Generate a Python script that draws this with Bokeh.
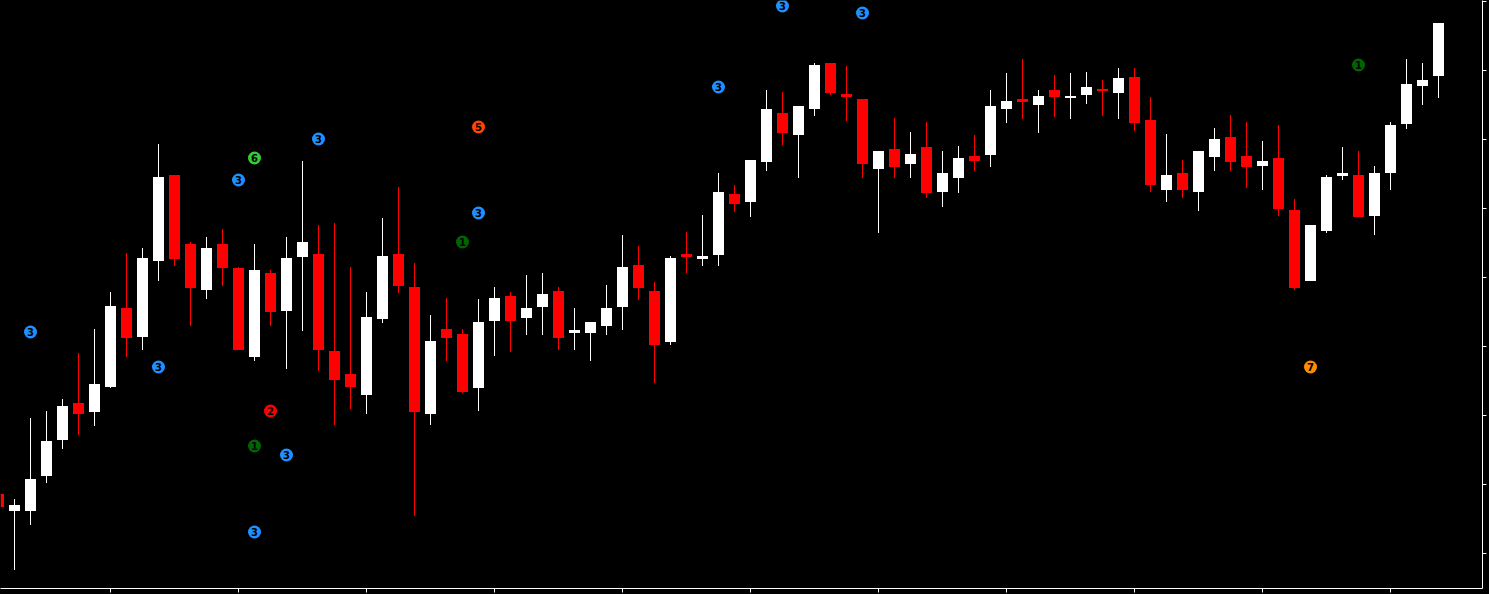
from bokeh.plotting import figure
from bokeh.models import Range1d, FixedTicker, LinearAxis, Label, ColumnDataSource
from bokeh.core.properties import value
from bokeh.embed import file_html
from bokeh.resources import INLINE

# ---- data (bar index, OHLC) ----
bars = list(range(-1, 90))
opens = [1053, 1044.5, 1044.5, 1062, 1080, 1098.5, 1094, 1106.5, 1146, 1131.5,
         1169.5, 1212.5, 1178, 1155, 1178, 1166, 1121.5, 1163.5, 1144.5, 1171.5,
         1173, 1124.5, 1113, 1102.5, 1140.5, 1173, 1156.5, 1093, 1135.5, 1133,
         1106, 1139.5, 1152, 1141, 1146.5, 1154.5, 1133.5, 1133.5, 1137, 1146.5,
         1167.5, 1154.5, 1129, 1173, 1170.5, 1172.5, 1203, 1199, 1219, 1243.5,
         1232.5, 1245.5, 1268.5, 1253, 1250.5, 1215.5, 1225.5, 1218, 1226.5, 1204,
         1211, 1222, 1222.5, 1245.5, 1250.5, 1247.5, 1255, 1251, 1252.5, 1255.5,
         1253.5, 1261.5, 1240, 1205, 1213.5, 1204, 1221.5, 1231.5, 1222, 1217,
         1221, 1195, 1159.5, 1184.5, 1212, 1212.5, 1192, 1213.5, 1238, 1257,
         1262]
highs = [1055, 1050.5, 1091, 1094.5, 1100.5, 1123.5, 1135.5, 1154, 1173.5, 1176,
         1228, 1212.5, 1179, 1181.5, 1185.5, 1166.5, 1178, 1165, 1181.5, 1219.5,
         1187.5, 1188.5, 1166.5, 1154, 1191, 1206.5, 1168.5, 1142.5, 1151, 1135.5,
         1150.5, 1156.5, 1154, 1162.5, 1163.5, 1156.5, 1146, 1139, 1157.5, 1182.5,
         1177, 1159, 1172, 1184, 1192.5, 1213.5, 1207.5, 1220, 1255, 1254,
         1247, 1268.5, 1268.5, 1267, 1250.5, 1224.5, 1241, 1234, 1239, 1224.5,
         1227, 1232.5, 1255, 1263.5, 1270.5, 1255, 1262.5, 1263.5, 1264, 1260,
         1266, 1266, 1251.5, 1233, 1220, 1224.5, 1236, 1242.5, 1239, 1229.5,
         1237.5, 1200.5, 1187.5, 1212.5, 1226.5, 1224.5, 1217, 1239, 1270.5, 1268.5,
         1288.5]
lows = [1044, 1015, 1037.5, 1058.5, 1075.5, 1082.5, 1087, 1106, 1121.5, 1125,
        1159.5, 1167, 1137, 1150.5, 1157, 1125, 1119.5, 1137, 1115.5, 1134.5,
        1114.5, 1087.5, 1095.5, 1093, 1138.5, 1153.5, 1042, 1087.5, 1119.5, 1103.5,
        1094.5, 1122, 1124, 1132.5, 1132.5, 1125, 1125, 1119.5, 1132.5, 1135,
        1150, 1108.5, 1127.5, 1163.5, 1167, 1167, 1194, 1191.5, 1214.5, 1227.5,
        1211, 1242, 1252.5, 1239.5, 1211, 1183.5, 1211, 1211, 1201, 1196.5,
        1203.5, 1214.5, 1216.5, 1238.5, 1240.5, 1233.5, 1241.5, 1240.5, 1248, 1242,
        1240.5, 1234.5, 1204, 1199, 1201, 1194.5, 1214.5, 1214.5, 1206, 1205,
        1192, 1155, 1159.5, 1183.5, 1210, 1191.5, 1182.5, 1205, 1235.5, 1247.5,
        1251]
closes = [1046.5, 1047.5, 1060.5, 1079.5, 1097, 1093, 1108, 1147, 1131, 1171,
          1211.5, 1170.5, 1156, 1176, 1166, 1125, 1165, 1144, 1171, 1179,
          1125, 1110, 1106.5, 1141.5, 1172, 1157, 1094, 1129.5, 1131, 1104,
          1139, 1151, 1139.5, 1146, 1153, 1131, 1135, 1139, 1146, 1166.5,
          1156, 1127.5, 1171, 1171.5, 1172, 1204, 1198, 1220, 1245.5, 1233.5,
          1247, 1267.5, 1253.5, 1251.5, 1218, 1224.5, 1216.5, 1223, 1203.5, 1213.5,
          1221, 1219.5, 1247, 1249.5, 1249, 1252, 1251.5, 1252, 1256.5, 1254.5,
          1261, 1238.5, 1207.5, 1212.5, 1205, 1224.5, 1230.5, 1219, 1216.5, 1219.5,
          1195.5, 1156, 1187.5, 1211.5, 1213.5, 1191.5, 1213.5, 1237.5, 1258, 1260,
          1288.5]

# signal markers (bar index, price, label)
sig_bars = [1, 9, 14, 15, 19, 29, 29, 28, 16, 15, 17, 15, 44, 48, 53, 84, 81]
sig_prices = [1134, 1116.5, 1210, 1221, 1230.5, 1236.5, 1193.5, 1179, 1094.5,
              1077, 1072.5, 1034, 1256.5, 1297, 1293.5, 1267.5, 1116.5]
sig_labels = ["3", "3", "3", "6", "3", "5", "3", "1", "2", "1", "3", "3",
              "3", "3", "3", "1", "7"]
sig_palette = {"1": "#006400", "2": "#FF0000", "3": "#1E90FF", "5": "#FF4500",
               "6": "#32CD32", "7": "#FF8C00"}

x_ticks = [6, 14, 22, 30, 38, 46, 54, 62, 70, 78, 86]
y_ticks = [1299.25, 1264.75, 1230.25, 1195.75, 1161.25, 1126.75, 1092.25,
           1057.75, 1023.25]

UP = "#FFFFFF"
DOWN = "#FF0000"

src = ColumnDataSource(dict(
    bar=bars, open=opens, high=highs, low=lows, close=closes,
    top=[max(o, c) for o, c in zip(opens, closes)],
    bottom=[min(o, c) for o, c in zip(opens, closes)],
    color=[UP if c >= o else DOWN for o, c in zip(opens, closes)],
))
sig_src = ColumnDataSource(dict(
    bar=sig_bars, price=sig_prices, label=sig_labels,
    color=[sig_palette[s] for s in sig_labels],
))

p = figure(frame_width=1482, frame_height=588,
           x_range=Range1d(-0.875, 91.75), y_range=Range1d(1005.75, 1299.75),
           output_backend="svg", toolbar_location=None, title=None,
           x_axis_location=None, y_axis_location=None,
           background_fill_color="#000000", border_fill_color="#000000",
           outline_line_color=None,
           min_border_left=0, min_border_top=0, min_border_right=7, min_border_bottom=6)
p.styles = {"background-color": "#000000"}
p.xgrid.visible = False
p.ygrid.visible = False


def style_axis(ax):
    ax.axis_line_color = "#FFFFFF"
    ax.axis_line_width = 1
    ax.major_tick_line_color = "#FFFFFF"
    ax.major_tick_in = 0
    ax.major_tick_out = 4
    ax.minor_tick_line_color = None
    ax.major_label_text_font_size = "0px"
    ax.major_label_text_color = None
    ax.major_label_standoff = 0


xax = LinearAxis(ticker=FixedTicker(ticks=x_ticks))
yax = LinearAxis(ticker=FixedTicker(ticks=y_ticks))
style_axis(xax)
style_axis(yax)
p.add_layout(xax, "below")
p.add_layout(yax, "right")

p.segment(x0="bar", y0="high", x1="bar", y1="low", line_color="color",
          line_width=1, source=src)
p.vbar(x="bar", width=0.6875, top="top", bottom="bottom", fill_color="color",
       line_color=None, source=src)

p.scatter(x="bar", y="price", size=13, marker="circle", fill_color="color",
          line_color=None, source=sig_src)
p.text(x="bar", y="price", text="label", text_align="center",
       text_baseline="middle", text_color="#000000",
       text_font=value("DejaVu Sans"), text_font_size="10px",
       text_font_style="bold", source=sig_src)

price_label = Label(x=91.84375, y=closes[-1], x_units="data", y_units="data",
                    text=f"{closes[-1]:.2f}", text_align="left",
                    text_baseline="middle", text_color="#000000",
                    text_font="DejaVu Sans", text_font_size="11px",
                    background_fill_color="#FFFFFF",
                    padding=dict(left=8, right=3, top=2, bottom=2))
p.add_layout(price_label)

open("out.html", "w").write(file_html(p, INLINE))
